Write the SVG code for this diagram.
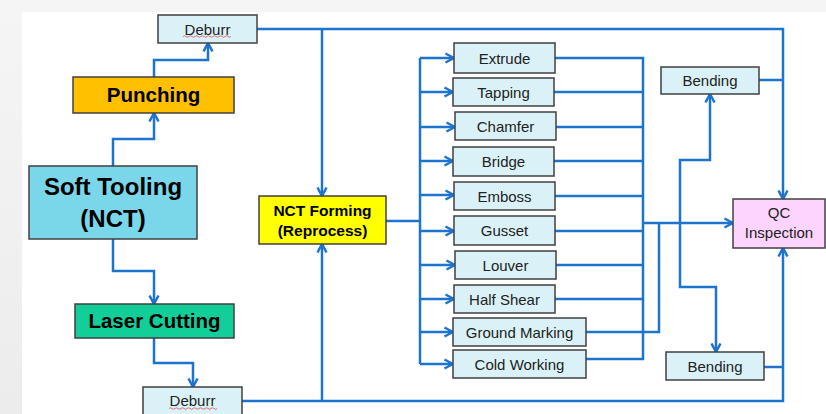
<svg xmlns="http://www.w3.org/2000/svg" width="826" height="414" viewBox="0 0 826 414">
<defs>
<linearGradient id="lg" x1="0" y1="0" x2="0" y2="1">
<stop offset="0" stop-color="#f5f5f5"/>
<stop offset="1" stop-color="#ececec"/>
</linearGradient>
<marker id="ar" viewBox="0 0 12 12" refX="10.5" refY="6" markerWidth="12" markerHeight="12" markerUnits="userSpaceOnUse" orient="auto">
<path d="M2,1.5 L10.5,6 L2,10.5" fill="none" stroke="#1C74CF" stroke-width="2.5" stroke-linejoin="miter"/>
</marker>
<style>
.ln{fill:none;stroke:#1C74CF;stroke-width:2.5;stroke-linejoin:miter}
.arr{marker-end:url(#ar)}
.bx{stroke:#404040;stroke-width:1.5}
.lt{fill:#DAF2F7}
.t{font-family:"Liberation Sans",Arial,sans-serif;font-size:15px;fill:#222;text-anchor:middle}
.b{font-family:"Liberation Sans",Arial,sans-serif;font-weight:bold;fill:#000;text-anchor:middle}
.sq{fill:none;stroke:#E05050;stroke-width:0.8}
</style>
</defs>
<rect x="0" y="0" width="826" height="414" fill="url(#lg)"/>
<rect x="22" y="12" width="804" height="402" fill="#ffffff"/>

<g id="connectors">
<path class="ln arr" d="M113,166 V139 H154 V113"/>
<path class="ln arr" d="M154,77 V60 H208 V43"/>
<path class="ln arr" d="M113,239 V271 H154 V304"/>
<path class="ln arr" d="M154,338 V363 H193 V387"/>
<path class="ln arr" d="M257,29 H783 V199"/>
<path class="ln arr" d="M322,29 V196"/>
<path class="ln arr" d="M242,401 H783 V248"/>
<path class="ln arr" d="M322,401 V244"/>
<path class="ln" d="M386,221 H420"/>
<path class="ln" d="M420,58 V364"/>
<path class="ln arr" d="M420,58 H454"/>
<path class="ln arr" d="M420,92 H453"/>
<path class="ln arr" d="M420,127 H455"/>
<path class="ln arr" d="M420,161 H453"/>
<path class="ln arr" d="M420,195 H454"/>
<path class="ln arr" d="M420,231 H454"/>
<path class="ln arr" d="M420,265 H455"/>
<path class="ln arr" d="M420,299 H454"/>
<path class="ln arr" d="M420,332 H453"/>
<path class="ln arr" d="M420,364 H453"/>
<path class="ln" d="M555,58 H643 V359 H586"/>
<path class="ln" d="M554,92 H643"/>
<path class="ln" d="M556,127 H643"/>
<path class="ln" d="M554,161 H643"/>
<path class="ln" d="M555,196 H643"/>
<path class="ln" d="M555,231 H643"/>
<path class="ln" d="M556,265 H643"/>
<path class="ln" d="M555,299 H643"/>
<path class="ln" d="M586,332 H659 V223"/>
<path class="ln arr" d="M643,223 H733"/>
<path class="ln arr" d="M680,223 V160 H710 V94"/>
<path class="ln arr" d="M680,223 V287 H716 V352"/>
<path class="ln" d="M759,80 H783"/>
<path class="ln" d="M764,367 H783"/>
</g>

<g id="deburr-top">
<rect class="bx lt" x="158" y="15" width="99" height="28"/>
<text class="t" x="207.5" y="34.5">Deburr</text>
<path class="sq" d="M183,36.5 q1.5,-1.5 3,0 t3,0 t3,0 t3,0 t3,0 t3,0 t3,0 t3,0 t3,0 t3,0 t3,0 t3,0 t3,0 t3,0 t3,0 t3,0"/>
</g>
<g id="punching">
<rect class="bx" fill="#FFC000" x="73" y="77" width="161" height="36"/>
<text class="b" x="153.5" y="102" font-size="20.5">Punching</text>
</g>
<g id="soft-tooling">
<rect class="bx" fill="#79D7E9" x="29" y="166" width="168" height="73"/>
<text class="b" x="113" y="195" font-size="24">Soft Tooling</text>
<text class="b" x="113" y="227" font-size="24">(NCT)</text>
</g>
<g id="laser-cutting">
<rect class="bx" fill="#12CF9A" x="75" y="304" width="159" height="34"/>
<text class="b" x="154.5" y="328" font-size="20.5">Laser Cutting</text>
</g>
<g id="deburr-bottom">
<rect class="bx lt" x="143" y="387" width="99" height="28"/>
<text class="t" x="192.5" y="406">Deburr</text>
<path class="sq" d="M169,408.5 q1.5,-1.5 3,0 t3,0 t3,0 t3,0 t3,0 t3,0 t3,0 t3,0 t3,0 t3,0 t3,0 t3,0 t3,0 t3,0 t3,0 t3,0"/>
</g>
<g id="nct-forming">
<rect class="bx" fill="#FFFF00" x="259" y="196" width="127" height="48"/>
<text class="b" x="322.5" y="216" font-size="15.5">NCT Forming</text>
<text class="b" x="322.5" y="236" font-size="15.5">(Reprocess)</text>
</g>
<g id="extrude"><rect class="bx lt" x="454" y="43" width="101" height="30"/><text class="t" x="504.5" y="63.5">Extrude</text></g>
<g id="tapping"><rect class="bx lt" x="453" y="78" width="101" height="28"/><text class="t" x="503.5" y="97.5">Tapping</text></g>
<g id="chamfer"><rect class="bx lt" x="455" y="112" width="101" height="28"/><text class="t" x="505.5" y="131.5">Chamfer</text></g>
<g id="bridge"><rect class="bx lt" x="453" y="147" width="101" height="29"/><text class="t" x="503.5" y="166.5">Bridge</text></g>
<g id="emboss"><rect class="bx lt" x="454" y="182" width="101" height="28"/><text class="t" x="504.5" y="201.5">Emboss</text></g>
<g id="gusset"><rect class="bx lt" x="454" y="216" width="101" height="29"/><text class="t" x="504.5" y="236">Gusset</text></g>
<g id="louver"><rect class="bx lt" x="455" y="251" width="101" height="28"/><text class="t" x="505.5" y="270.5">Louver</text></g>
<g id="half-shear"><rect class="bx lt" x="454" y="285" width="101" height="28"/><text class="t" x="504.5" y="304.5">Half Shear</text></g>
<g id="ground-marking"><rect class="bx lt" x="453" y="318" width="133" height="28"/><text class="t" x="519.5" y="337.5">Ground Marking</text></g>
<g id="cold-working"><rect class="bx lt" x="453" y="350" width="133" height="28"/><text class="t" x="519.5" y="369.5">Cold Working</text></g>
<g id="bending-top"><rect class="bx lt" x="661" y="67" width="98" height="27"/><text class="t" x="710" y="86">Bending</text></g>
<g id="bending-bottom"><rect class="bx lt" x="666" y="352" width="98" height="28"/><text class="t" x="715" y="371.5">Bending</text></g>
<g id="qc-inspection">
<rect class="bx" fill="#FDD4FD" x="733" y="199" width="92" height="49"/>
<text class="t" x="779" y="218">QC</text>
<text class="t" x="779" y="238">Inspection</text>
</g>
</svg>
